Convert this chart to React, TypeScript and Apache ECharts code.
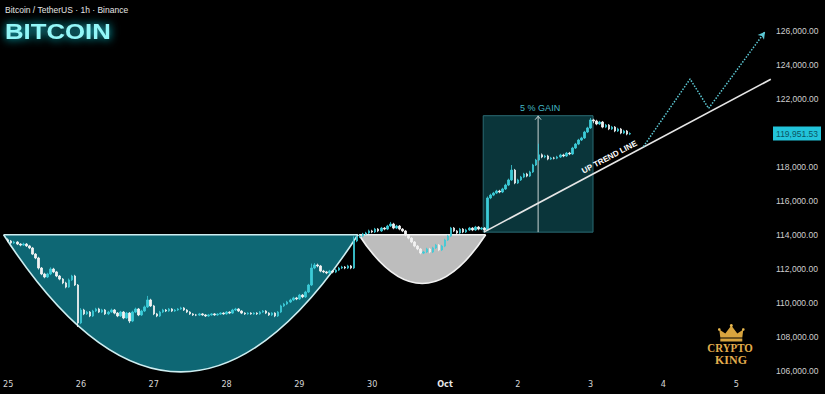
import React, { useEffect, useRef } from 'react';
import * as echarts from 'echarts';

// ---------- data ----------
const xLabels = ['25', '26', '27', '28', '29', '30', 'Oct', '2', '3', '4', '5'];
const HOURS_PER_DAY = 24;

const FIRST_OPEN = 113700;
const closes = [
  113630, 113510, 113570, 113450, 113390, 113450, 113340, 113220, 112860, 112630,
  112040, 111690, 111510, 111690, 111980, 111810, 111570, 111390, 111160, 110920,
  111340, 111570, 111040, 108810, 109570, 109340, 109450, 109220, 109510, 109630,
  109450, 109570, 109340, 109450, 109570, 109390, 109220, 109450, 109100, 109390,
  108920, 109450, 109630, 109280, 109510, 109750, 110160, 109810, 109340, 109220,
  109450, 109570, 109510, 109630, 109510, 109570, 109630, 109690, 109570, 109450,
  109340, 109280, 109270, 109340, 109280, 109220, 109280, 109340, 109280, 109330,
  109390, 109340, 109450, 109390, 109570, 109630, 109510, 109390, 109340, 109390,
  109340, 109390, 109340, 109450, 109510, 109390, 109280, 109390, 109220, 109450,
  109810, 109920, 110040, 110160, 110280, 110220, 110450, 110340, 110630, 111040,
  112040, 112220, 112160, 111860, 111810, 111750, 111860, 111800, 111920, 112040,
  112100, 112040, 112160, 112040, 113630, 113860, 113920, 114040, 114100, 114220,
  114160, 114330, 114220, 114390, 114330, 114510, 114630, 114390, 114510, 114330,
  114220, 113980, 113800, 113570, 113330, 113160, 112920, 112980, 113160, 112980,
  113220, 113390, 113100, 113330, 113690, 113920, 114390, 114220, 114100, 114330,
  114160, 114280, 114390, 114280, 114450, 114330, 114390, 114280, 116160, 116330,
  116450, 116570, 116510, 116690, 116920, 117220, 117800, 117040, 117220, 117390,
  117570, 117450, 117690, 118100, 118390, 118700, 118570, 118630, 118450, 118510,
  118500, 118570, 118690, 118630, 118800, 118750, 119100, 119330, 119570, 119690,
  120040, 120280, 120750, 120690, 120510, 120630, 120330, 120450, 120220, 120330,
  120100, 120220, 119980, 120100, 119920, 119950,
];
const lows = [
  113560, 113450, 113460, 113390, 113320, 113340, 113280, 113150, 112800, 112560,
  111950, 111620, 111440, 111450, 111620, 111740, 111500, 111320, 111090, 110850,
  110870, 111280, 110980, 108570, 108740, 109270, 109280, 109150, 109160, 109450,
  109390, 109390, 109280, 109270, 109400, 109320, 109150, 109160, 109030, 109050,
  108800, 108860, 109390, 109210, 109220, 109450, 109690, 109750, 109270, 109150,
  109160, 109390, 109450, 109460, 109450, 109460, 109520, 109580, 109510, 109390,
  109280, 109220, 109210, 109220, 109230, 109160, 109170, 109230, 109230, 109230,
  109280, 109290, 109290, 109330, 109340, 109510, 109450, 109330, 109280, 109290,
  109290, 109290, 109280, 109290, 109400, 109330, 109220, 109220, 109150, 109160,
  109390, 109750, 109860, 109980, 110100, 110150, 110160, 110270, 110280, 110570,
  110980, 111970, 112080, 111790, 111740, 111680, 111690, 111730, 111740, 111860,
  111980, 111970, 111980, 111970, 111980, 113560, 113800, 113860, 113980, 114040,
  114090, 114100, 114150, 114160, 114260, 114270, 114450, 114320, 114330, 114260,
  114150, 113910, 113730, 113500, 113260, 113090, 112850, 112860, 112920, 112910,
  112920, 113160, 113030, 113040, 113270, 113630, 113860, 114150, 114030, 114040,
  114090, 114100, 114220, 114210, 114220, 114260, 114270, 114210, 114220, 116090,
  116270, 116390, 116440, 116450, 116630, 116860, 117160, 116970, 116980, 117160,
  117330, 117380, 117390, 117630, 118040, 118330, 118500, 118500, 118380, 118390,
  118430, 118440, 118510, 118560, 118570, 118680, 118690, 119040, 119270, 119510,
  119630, 119980, 120220, 120560, 120440, 120450, 120260, 120270, 120150, 120160,
  120030, 120040, 119910, 119920, 119850, 119860,
];
const highs = [
  113780, 113690, 113640, 113620, 113500, 113530, 113510, 113400, 113280, 112920,
  112700, 112100, 111760, 111760, 112080, 112050, 111870, 111630, 111450, 111230,
  111420, 111640, 111640, 111100, 109680, 109640, 109520, 109510, 109580, 109700,
  109700, 109640, 109630, 109520, 109650, 109630, 109450, 109520, 109510, 109460,
  109450, 109530, 109710, 109690, 109580, 109830, 110400, 110230, 109870, 109400,
  109520, 109640, 109630, 109690, 109680, 109630, 109690, 109760, 109740, 109620,
  109500, 109390, 109340, 109400, 109390, 109330, 109340, 109390, 109390, 109380,
  109440, 109440, 109510, 109500, 109640, 109700, 109680, 109560, 109440, 109440,
  109440, 109440, 109440, 109510, 109570, 109560, 109440, 109440, 109440, 109510,
  109880, 109990, 110110, 110230, 110350, 110340, 110520, 110510, 110700, 111110,
  112300, 112330, 112300, 112220, 111930, 111870, 111930, 111920, 111990, 112110,
  112170, 112160, 112230, 112220, 113900, 113950, 114000, 114110, 114170, 114300,
  114290, 114400, 114390, 114460, 114450, 114580, 114750, 114700, 114580, 114570,
  114390, 114280, 114040, 113860, 113630, 113390, 113220, 113050, 113230, 113220,
  113290, 113460, 113450, 113400, 113760, 113990, 114460, 114450, 114280, 114400,
  114390, 114350, 114460, 114450, 114520, 114510, 114460, 114450, 116250, 116410,
  116520, 116640, 116640, 116760, 117000, 117300, 118100, 117870, 117290, 117460,
  117640, 117640, 117760, 118170, 118460, 119350, 118780, 118700, 118700, 118580,
  118580, 118640, 118760, 118760, 118870, 118870, 119170, 119400, 119640, 119760,
  120110, 120350, 120870, 120820, 120760, 120700, 120690, 120520, 120510, 120400,
  120390, 120290, 120280, 120170, 120160, 120020,
];

const LAST_PRICE = 119951.53;
// annotation anchors (hour index, price)
const cup = [-1.5, 115.3, 114000, 105930]; // start, end, rim, bottom
const handle = [115.6, 157.4, 114000, 111130];
const gainBox = [156.6, 192.8, 114150, 121000]; // x0, x1, bottom, top
const trendLine = [[156.8, 114150], [251.4, 123140]];
const trendLabelAt = [198.2, 118560];
const projection = [[209.4, 119180], [224.8, 123160], [230.9, 121430], [249.5, 125940]];

const X_MAX = 251.8;
const Y_MIN = 106000;
const Y_MAX = 126000;
const Y_STEP = 2000;

// ---------- helpers ----------
const candleData = closes.map((c, i) => [i, i === 0 ? FIRST_OPEN : closes[i - 1], c, lows[i], highs[i]]);

function cupRenderer(fill: string, stroke: string) {
  return (params: any, api: any) => {
    const s = api.value(0), e = api.value(1), rim = api.value(2), bot = api.value(3);
    const a = api.coord([s, rim]);
    const b = api.coord([e, rim]);
    const m = api.coord([(s + e) / 2, bot]);
    return {
      type: 'group',
      children: [
        {
          type: 'bezierCurve',
          shape: { x1: a[0], y1: a[1], x2: b[0], y2: b[1], cpx1: m[0], cpy1: 2 * m[1] - a[1] },
          style: { fill, stroke, lineWidth: 1.6 },
        },
        {
          type: 'line',
          shape: { x1: a[0], y1: a[1], x2: b[0], y2: b[1] },
          style: { stroke, lineWidth: 1.6 },
        },
      ],
    };
  };
}

const fmtPrice = (v: number) =>
  v.toLocaleString('en-US', { minimumFractionDigits: 2, maximumFractionDigits: 2 });

export default function App() {
  const ref = useRef<HTMLDivElement>(null);
  useEffect(() => {
    document.body.style.margin = '0';
    document.body.style.background = '#000';
    const chart = echarts.init(ref.current!, null, { renderer: 'svg' });
    const option: any = {
      animation: false,
      backgroundColor: '#000000',
      textStyle: { fontFamily: 'Liberation Sans, Arial, sans-serif' },
      grid: { left: 6.5, right: 53, top: 30.7, bottom: 23.3, containLabel: false },
      xAxis: {
        type: 'value',
        min: 0,
        max: X_MAX,
        interval: HOURS_PER_DAY,
        axisLine: { show: false },
        axisTick: { show: false },
        splitLine: { show: false },
        axisLabel: {
          showMaxLabel: false,
          margin: 9,
          color: '#d6d6d6',
          fontSize: 9,
          fontFamily: 'Liberation Sans Narrow, DejaVu Sans Condensed, Liberation Sans, sans-serif',
          formatter: (v: number) => {
            const lab = xLabels[Math.round(v / HOURS_PER_DAY)];
            if (lab === undefined) return '';
            return lab === 'Oct' ? '{b|Oct}' : lab;
          },
          rich: { b: { fontWeight: 'bold', fontSize: 9, color: '#e8e8e8' } },
        },
      },
      yAxis: {
        type: 'value',
        position: 'right',
        min: Y_MIN,
        max: Y_MAX,
        interval: Y_STEP,
        axisLine: { show: false },
        axisTick: { show: false },
        splitLine: { show: false },
        axisLabel: {
          margin: 4,
          color: '#cfcfcf',
          fontSize: 8.5,
          formatter: (v: number) => (v === 120000 ? '' : fmtPrice(v)),
        },
      },
      graphic: [
        {
          type: 'text',
          left: 5,
          top: 5,
          style: { text: 'Bitcoin / TetherUS · 1h · Binance', fill: '#e4e4e4', font: '8.5px Liberation Sans' },
        },
        {
          type: 'text',
          x: 5,
          y: 19,
          scaleX: 1.12,
          style: {
            text: 'BITCOIN',
            fill: '#92f7f8',
            font: 'bold 23px Liberation Sans',
            textShadowColor: '#14d6e6',
            textShadowBlur: 10,
          },
        },
        {
          type: 'group',
          left: 718,
          top: 324,
          children: [
            {
              type: 'polygon',
              shape: { points: [[1, 12], [0, 4], [6, 8], [12, 0], [18, 8], [24, 4], [23, 12]] },
              style: { fill: '#d8a43e' },
            },
            { type: 'rect', shape: { x: 1, y: 13, width: 22, height: 3 }, style: { fill: '#d8a43e' } },
            { type: 'circle', shape: { cx: 12, cy: 0, r: 1.5 }, style: { fill: '#e8b850' } },
            { type: 'circle', shape: { cx: 0, cy: 4, r: 1.3 }, style: { fill: '#e8b850' } },
            { type: 'circle', shape: { cx: 24, cy: 4, r: 1.3 }, style: { fill: '#e8b850' } },
          ],
        },
        {
          type: 'text',
          x: 730,
          y: 348,
          scaleX: 0.84,
          style: {
            text: 'CRYPTO',
            fill: '#e3ad4c',
            font: 'bold 13px Liberation Serif',
            align: 'center',
            verticalAlign: 'middle',
          },
        },
        {
          type: 'text',
          x: 731,
          y: 360,
          scaleX: 0.92,
          style: {
            text: 'KING',
            fill: '#e3ad4c',
            font: 'bold 13px Liberation Serif',
            align: 'center',
            verticalAlign: 'middle',
          },
        },
      ],
      series: [
        {
          type: 'custom',
          name: 'cup',
          z: 1,
          clip: false,
          data: [cup],
          renderItem: cupRenderer('#0e6774', '#cdeef1'),
        },
        {
          type: 'custom',
          name: 'handle',
          z: 1,
          clip: false,
          data: [handle],
          renderItem: cupRenderer('#bdbdbd', '#f2f2f2'),
        },
        {
          type: 'custom',
          name: 'gain',
          z: 1,
          clip: false,
          data: [gainBox],
          renderItem: (params: any, api: any) => {
            const x0 = api.value(0), x1 = api.value(1), bot = api.value(2), top = api.value(3);
            const a = api.coord([x0, top]);
            const b = api.coord([x1, bot]);
            const mx = (a[0] + b[0]) / 2;
            return {
              type: 'group',
              children: [
                {
                  type: 'rect',
                  shape: { x: a[0], y: a[1], width: b[0] - a[0], height: b[1] - a[1] },
                  style: { fill: '#0a353a', stroke: '#2a6b73', lineWidth: 1 },
                },
                {
                  type: 'line',
                  shape: { x1: mx, y1: b[1], x2: mx, y2: a[1] },
                  style: { stroke: '#c9d4d4', lineWidth: 1 },
                },
                {
                  type: 'polyline',
                  shape: { points: [[mx - 3, a[1] + 4], [mx, a[1] + 0.5], [mx + 3, a[1] + 4]] },
                  style: { stroke: '#c9d4d4', lineWidth: 1, fill: null },
                },
                {
                  type: 'text',
                  x: mx + 2,
                  y: a[1] - 8,
                  style: {
                    text: '5 % GAIN',
                    fill: '#43b8c6',
                    font: '9px Liberation Sans',
                    align: 'center',
                    verticalAlign: 'middle',
                  },
                },
              ],
            };
          },
        },
        {
          type: 'candlestick',
          name: 'BTCUSDT',
          z: 3,
          barWidth: 2,
          encode: { x: 0, y: [1, 2, 3, 4] },
          data: candleData,
          itemStyle: {
            color: '#3ccbd8',
            color0: '#f2f2f2',
            borderColor: '#3ccbd8',
            borderColor0: '#f2f2f2',
            borderWidth: 0.8,
          },
        },
        {
          type: 'line',
          name: 'trend',
          z: 4,
          clip: false,
          symbol: 'none',
          data: trendLine,
          lineStyle: { color: '#e6e6e6', width: 1.6 },
        },
        {
          type: 'custom',
          name: 'trendLabel',
          z: 5,
          clip: false,
          data: [trendLabelAt],
          renderItem: (params: any, api: any) => {
            const p = api.coord([api.value(0), api.value(1)]);
            const a = api.coord(trendLine[0]);
            const b = api.coord(trendLine[1]);
            const rot = Math.atan2(a[1] - b[1], b[0] - a[0]);
            return {
              type: 'text',
              x: p[0],
              y: p[1],
              rotation: rot,
              style: {
                text: 'UP TREND LINE',
                fill: '#ffffff',
                font: 'bold 8px Liberation Sans',
                align: 'center',
                verticalAlign: 'middle',
              },
            };
          },
        },
        {
          type: 'line',
          name: 'projection',
          z: 4,
          clip: false,
          showSymbol: true,
          data: projection.map((p, i) =>
            i === projection.length - 1
              ? { value: p, symbol: 'arrow', symbolSize: [6, 7], symbolRotate: -37, itemStyle: { color: '#5cc8d4' } }
              : { value: p, symbol: 'none' }
          ),
          lineStyle: { color: '#5cc8d4', width: 1.5, type: 'dotted' },
        },
        {
          type: 'custom',
          name: 'priceTag',
          z: 10,
          clip: false,
          data: [[X_MAX, LAST_PRICE]],
          renderItem: (params: any, api: any) => {
            const p = api.coord([api.value(0), api.value(1)]);
            return {
              type: 'group',
              children: [
                {
                  type: 'rect',
                  shape: { x: p[0] + 1, y: p[1] - 7, width: 48, height: 14 },
                  style: { fill: '#22c4da' },
                },
                {
                  type: 'text',
                  x: p[0] + 25,
                  y: p[1],
                  style: {
                    text: fmtPrice(LAST_PRICE),
                    fill: '#0b5563',
                    font: '8.5px Liberation Sans',
                    align: 'center',
                    verticalAlign: 'middle',
                  },
                },
              ],
            };
          },
        },
      ],
    };
    chart.setOption(option);
    return () => chart.dispose();
  }, []);
  return <div ref={ref} style={{ width: 825, height: 394, background: '#000' }} />;
}
